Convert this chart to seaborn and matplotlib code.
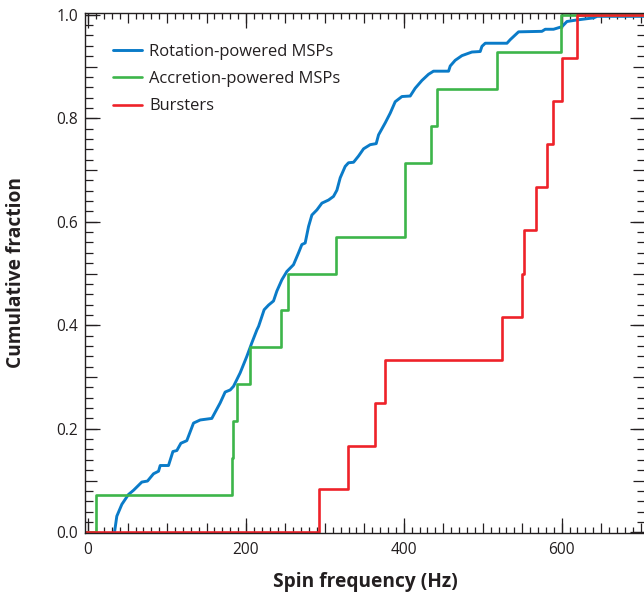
import numpy as np
import matplotlib
matplotlib.use("Agg")
import matplotlib.pyplot as plt
import seaborn as sns
from matplotlib.ticker import MultipleLocator

# ---------------- data ----------------
series_names = ["Rotation-powered MSPs", "Accretion-powered MSPs", "Bursters"]
series_colors = ["#0a7bc8", "#3db54a", "#ee2229"]

# cumulative curve of rotation-powered MSPs (frequency in Hz, cumulative fraction)
rot_freq = [33.4, 36.3, 42.7, 51.1, 57.4, 68.0, 75.2, 82.8, 89.2, 91.3, 101.8,
            107.4, 112.4, 117.5, 125.0, 133.5, 142.0, 156.7, 167.3, 173.6, 180.0,
            184.2, 192.6, 201.1, 207.4, 213.8, 216.0, 223.0, 228.6, 234.9, 239.1,
            245.5, 251.8, 260.2, 266.6, 270.8, 275.0, 279.3, 283.5, 289.9, 296.2,
            304.6, 310.9, 315.2, 319.4, 325.7, 329.9, 336.3, 342.6, 349.0, 357.4,
            365.0, 368.0, 376.4, 382.8, 389.1, 397.6, 408.1, 414.4, 422.9, 431.3,
            437.6, 456.7, 458.8, 465.1, 473.6, 486.3, 496.8, 499.0, 503.2, 530.7,
            534.9, 545.4, 575.0, 579.2, 589.7, 600.4, 606.7, 619.4, 640.5, 645.0,
            716.0]
rot_frac = [0.000, 0.031, 0.054, 0.073, 0.081, 0.097, 0.099, 0.113, 0.118, 0.129, 0.129,
            0.156, 0.158, 0.172, 0.177, 0.211, 0.217, 0.220, 0.250, 0.271, 0.275,
            0.282, 0.308, 0.340, 0.366, 0.391, 0.398, 0.430, 0.439, 0.447, 0.466,
            0.488, 0.504, 0.517, 0.540, 0.556, 0.559, 0.591, 0.613, 0.623, 0.636,
            0.642, 0.649, 0.661, 0.685, 0.707, 0.714, 0.715, 0.727, 0.741, 0.749,
            0.751, 0.768, 0.791, 0.810, 0.832, 0.842, 0.843, 0.858, 0.873, 0.885,
            0.891, 0.891, 0.901, 0.912, 0.921, 0.928, 0.929, 0.939, 0.945, 0.945,
            0.952, 0.967, 0.968, 0.972, 0.972, 0.977, 0.987, 0.990, 0.994, 0.997,
            0.997]

# spin frequencies (Hz) of the individual accreting sources
acc_freq = [10, 182, 184, 188, 205, 245, 253, 314, 401, 401, 435, 442, 518, 599]
burst_freq = [293, 329, 363, 376, 525, 550, 552, 567, 581, 589, 600, 620]

x_major = [0, 200, 400, 600]
x_labels = ["0", "200", "400", "600"]
y_major = [0.0, 0.2, 0.4, 0.6, 0.8, 1.0]
y_labels = ["0.0", "0.2", "0.4", "0.6", "0.8", "1.0"]

XMIN, XMAX = -4, 706
YMIN, YMAX = -0.002, 1.004

# ---------------- style ----------------
sns.set_style("ticks")
plt.rcParams["font.family"] = ["Open Sans", "DejaVu Sans"]
TICK_C = "#231f20"

fig = plt.figure(figsize=(6.44, 5.93), dpi=100)
ax = fig.add_axes([85 / 644, (593 - 533.3) / 593, 560.3 / 644, 520.6 / 593])


def ecdf_steps(vals):
    v = np.sort(np.asarray(vals, dtype=float))
    n = len(v)
    x = np.r_[XMIN, v, XMAX]
    y = np.r_[0.0, np.arange(1, n + 1) / n, 1.0]
    return x, y


sns.lineplot(x=rot_freq, y=rot_frac, estimator=None, sort=False,
             color=series_colors[0], lw=2.1, label=series_names[0], ax=ax)
gx, gy = ecdf_steps(acc_freq)
sns.lineplot(x=gx, y=gy, estimator=None, sort=False, drawstyle="steps-post",
             color=series_colors[1], lw=1.9, label=series_names[1], ax=ax)
rx, ry = ecdf_steps(burst_freq)
sns.lineplot(x=rx, y=ry, estimator=None, sort=False, drawstyle="steps-post",
             color=series_colors[2], lw=1.9, label=series_names[2], ax=ax)

ax.set_xlim(XMIN, XMAX)
ax.set_ylim(YMIN, YMAX)

for s in ax.spines.values():
    s.set_color(TICK_C)
    s.set_linewidth(1.0)

# medium + minor ticks on main axes
ax.xaxis.set_major_locator(MultipleLocator(50))
ax.xaxis.set_minor_locator(MultipleLocator(10))
ax.yaxis.set_major_locator(MultipleLocator(0.1))
ax.yaxis.set_minor_locator(MultipleLocator(0.02))
ax.tick_params(which="both", direction="in", top=True, right=True, bottom=True, left=True,
               labelbottom=False, labelleft=False, color=TICK_C, width=0.9)
ax.tick_params(axis="x", which="major", length=7.5)
ax.tick_params(axis="x", which="minor", length=4.5)
ax.tick_params(axis="y", which="major", length=8.5)
ax.tick_params(axis="y", which="minor", length=6)

# long labelled ticks via secondary axes
for loc in ["bottom", "top"]:
    sec = ax.secondary_xaxis(loc)
    sec.set_xticks(x_major)
    if loc == "bottom":
        sec.set_xticklabels(x_labels)
    else:
        sec.set_xticklabels([])
    sec.tick_params(direction="in", length=11, width=0.9, color=TICK_C,
                    labelsize=11.2, pad=6.5, labelcolor=TICK_C)
    for s in sec.spines.values():
        s.set_visible(False)
for loc in ["left", "right"]:
    sec = ax.secondary_yaxis(loc)
    sec.set_yticks(y_major)
    if loc == "left":
        sec.set_yticklabels(y_labels)
    else:
        sec.set_yticklabels([])
    sec.tick_params(direction="in", length=11, width=0.9, color=TICK_C,
                    labelsize=11.2, pad=5, labelcolor=TICK_C)
    for s in sec.spines.values():
        s.set_visible(False)

ax.set_xlabel("Spin frequency (Hz)", fontsize=13.8, fontweight="bold", color=TICK_C)
ax.set_ylabel("Cumulative fraction", fontsize=13.8, fontweight="bold", color=TICK_C)
ax.xaxis.set_label_coords(0.5, -0.074)
ax.yaxis.set_label_coords(-0.106, 0.5)

leg = ax.legend(loc="upper left", bbox_to_anchor=(0.05, 0.940), frameon=False,
                fontsize=11.9, handlelength=1.75, handletextpad=0.45,
                labelspacing=0.68, borderaxespad=0, borderpad=0)
for t in leg.get_texts():
    t.set_color(TICK_C)

fig.savefig("out.png", dpi=100)
